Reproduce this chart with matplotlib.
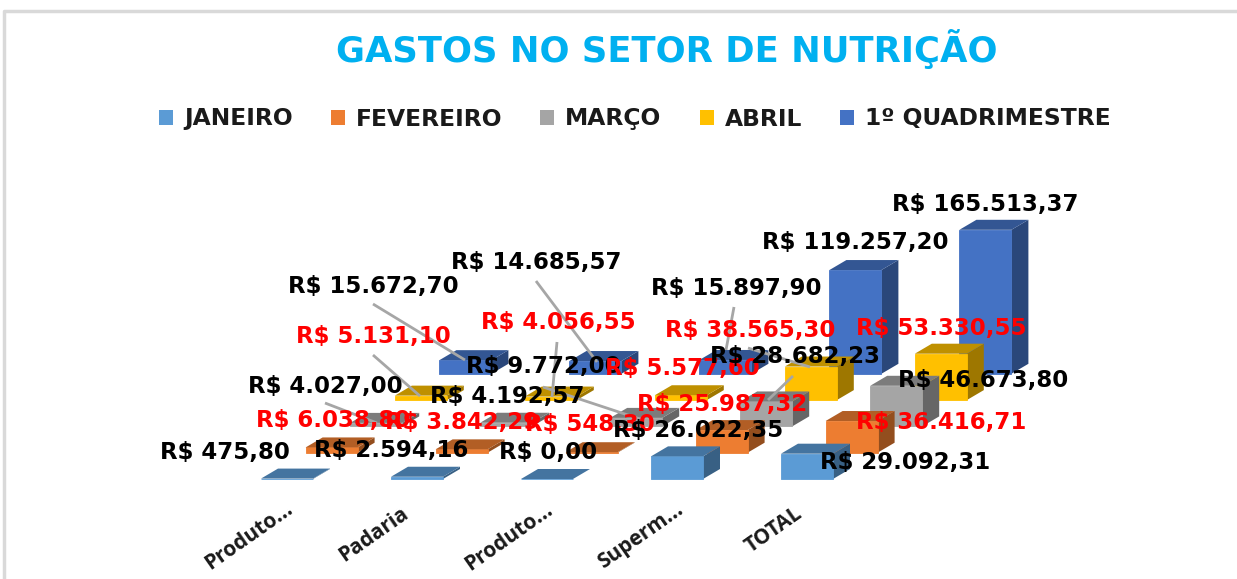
import matplotlib
matplotlib.use("Agg")
import matplotlib.pyplot as plt
from matplotlib.patches import Polygon, Patch
from matplotlib.colors import to_rgb

categories = ["Produto...", "Padaria", "Produto...", "Superm...", "TOTAL"]
series_names = ["JANEIRO", "FEVEREIRO", "MARÇO", "ABRIL", "1º QUADRIMESTRE"]
janeiro = [475.80, 2594.16, 0.00, 26022.35, 29092.31]
fevereiro = [6038.80, 3842.29, 548.30, 25987.32, 36416.71]
marco = [4027.00, 4192.57, 9772.00, 28682.23, 46673.80]
abril = [5131.10, 4056.55, 5577.60, 38565.30, 53330.55]
quadrimestre = [15672.70, 14685.57, 15897.90, 119257.20, 165513.37]
all_series = [janeiro, fevereiro, marco, abril, quadrimestre]
colors = ["#5B9BD5", "#ED7D31", "#A5A5A5", "#FFC000", "#4472C4"]
label_red = [False, True, False, True, False]

# Oblique projection (layout, in figure pixels)
X0, Y0 = 261, 479
CAT_STEP = 130
SER_DX, SER_DY = 44.6, -26.3
BAR_W = 52
DEPTH_X, DEPTH_Y = 17, -10
PX_PER_UNIT = 144 / 165513.37


def fmt(v):
    s = f"{v:,.2f}".replace(",", "X").replace(".", ",").replace("X", ".")
    return "R$ " + s


def shade(c, f):
    return tuple(x * f for x in to_rgb(c))


# Label placement: (series, category) -> (left x, centre y)
label_pos = {
    (4, 4): (892, 204), (4, 3): (762, 243), (4, 1): (451, 263), (4, 0): (288, 286),
    (4, 2): (651, 289), (3, 1): (481, 323), (3, 3): (665, 330), (3, 4): (856, 329),
    (3, 0): (296, 337), (2, 2): (466, 367), (3, 2): (605, 369), (2, 3): (710, 357),
    (2, 4): (898, 381), (2, 0): (248, 386), (2, 1): (430, 396), (1, 3): (637, 404),
    (1, 0): (256, 421), (1, 1): (385, 423), (1, 4): (856, 422), (1, 2): (525, 425),
    (0, 3): (613, 430), (0, 0): (160, 453), (0, 1): (314, 451), (0, 2): (499, 453),
    (0, 4): (820, 462),
}
leaders = [
    ((373, 304), (465, 360)), ((373, 355), (420, 396)), ((325, 403), (377, 423)),
    ((536, 281), (597, 362)), ((557, 342), (552, 397)), ((543, 387), (643, 420)),
    ((734, 307), (726, 350)), ((748, 348), (810, 367)), ((793, 376), (768, 400)),
]
cat_label_anchor = [(285, 498), (400, 503), (545, 499), (675, 499), (794, 503)]

fig = plt.figure(figsize=(12.37, 5.79), dpi=100, facecolor="white")
ax = fig.add_axes([0, 0, 1, 1])
ax.set_xlim(0, 1237)
ax.set_ylim(579, 0)
ax.axis("off")

# Chart frame
ax.plot([4, 4, 1237], [579, 11, 11], color="#D9D9D9", lw=2.5, zorder=0)

# Bars, back to front
z = 1
for s in range(len(all_series) - 1, -1, -1):
    for c, v in enumerate(all_series[s]):
        x = X0 + c * CAT_STEP + s * SER_DX
        yb = Y0 + s * SER_DY
        yt = yb - v * PX_PER_UNIT
        col = colors[s]
        front = [(x, yb), (x + BAR_W, yb), (x + BAR_W, yt), (x, yt)]
        side = [(x + BAR_W, yb), (x + BAR_W + DEPTH_X, yb + DEPTH_Y),
                (x + BAR_W + DEPTH_X, yt + DEPTH_Y), (x + BAR_W, yt)]
        top = [(x, yt), (x + BAR_W, yt), (x + BAR_W + DEPTH_X, yt + DEPTH_Y),
               (x + DEPTH_X, yt + DEPTH_Y)]
        ax.add_patch(Polygon(side, closed=True, fc=shade(col, 0.62), ec="none", zorder=z))
        ax.add_patch(Polygon(front, closed=True, fc=col, ec=col, lw=0.6, zorder=z))
        ax.add_patch(Polygon(top, closed=True, fc=shade(col, 0.75), ec="none", zorder=z))
        z += 1

# Leader lines
for a, b in leaders:
    ax.plot([a[0], b[0]], [a[1], b[1]], color="#A6A6A6", lw=2, zorder=z, solid_capstyle="butt")
z += 1

# Data labels
for (s, c), (lx, ly) in label_pos.items():
    ax.text(lx, ly, fmt(all_series[s][c]), ha="left", va="center",
            color="#FF0000" if label_red[s] else "black",
            fontsize=16.5, fontweight="bold", family="DejaVu Sans", zorder=z)

# Category labels
for name, (ax_x, ax_y) in zip(categories, cat_label_anchor):
    ax.text(ax_x, ax_y, name, rotation=35, rotation_mode="anchor", ha="right", va="top",
            fontsize=15, fontweight="bold", color="#1A1A1A", family="Open Sans", zorder=z)

# Title
ax.text(666.5, 49, "GASTOS NO SETOR DE NUTRIÇÃO", ha="center", va="center",
        color="#00B0F0", fontsize=25.5, fontweight="bold", family="DejaVu Sans")

# Legend
handles = [Patch(fc=c, ec="none", label=n) for c, n in zip(colors, series_names)]
ax.legend(handles=handles, ncol=5, loc="center", bbox_to_anchor=(635, 119),
          bbox_transform=ax.transData, frameon=False,
          prop={"family": "DejaVu Sans", "weight": "bold", "size": 16.8},
          handlelength=0.6, handleheight=0.6, handletextpad=0.47,
          columnspacing=1.63, labelcolor="#1A1A1A")

fig.savefig("out.png", dpi=100, facecolor="white")
